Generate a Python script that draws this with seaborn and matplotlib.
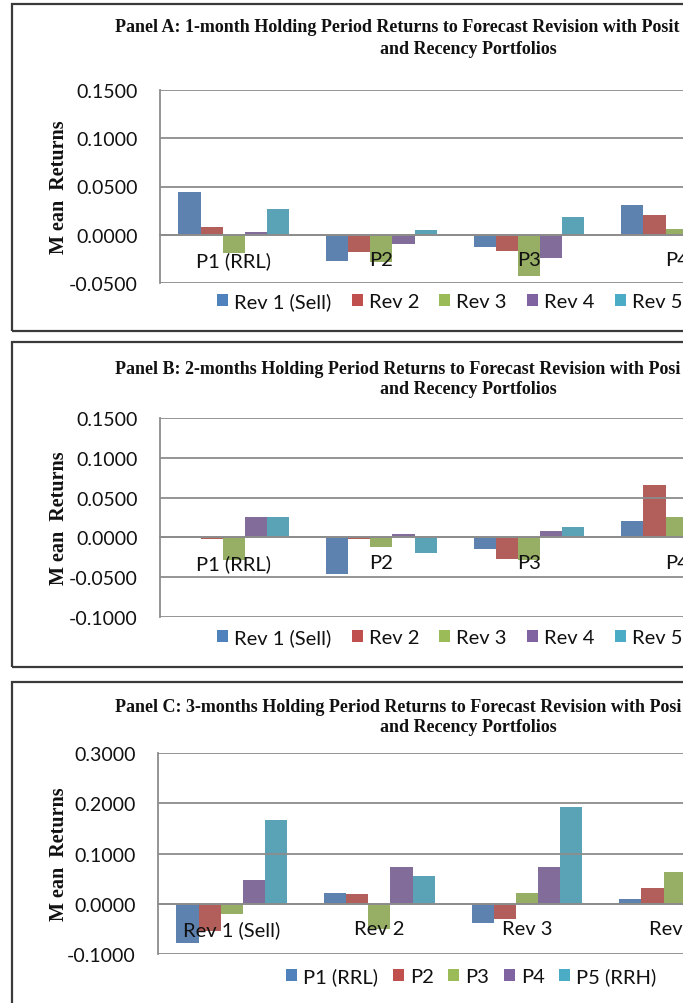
import numpy as np
import pandas as pd
import matplotlib
matplotlib.use("Agg")
import matplotlib.pyplot as plt
import seaborn as sns
from matplotlib.patches import Rectangle, Patch
from matplotlib.ticker import FuncFormatter, FixedLocator

nan = np.nan

# Category and series names
portfolios = ["P1 (RRL)", "P2", "P3", "P4", "P5 (RRH)"]
revisions = ["Rev 1 (Sell)", "Rev 2", "Rev 3", "Rev 4", "Rev 5 (Buy)"]

# Panel A: 1-month holding period mean returns (rows = revision series, by portfolio)
a_rev1 = [0.044, -0.027, -0.013, 0.031, nan]
a_rev2 = [0.008, -0.018, -0.017, 0.020, nan]
a_rev3 = [-0.019, -0.028, -0.043, 0.006, nan]
a_rev4 = [0.003, -0.010, -0.024, nan, nan]
a_rev5 = [0.027, 0.005, 0.018, nan, nan]

# Panel B: 2-months holding period mean returns
b_rev1 = [0.002, -0.046, -0.015, 0.021, nan]
b_rev2 = [-0.0025, -0.002, -0.0275, 0.0655, nan]
b_rev3 = [-0.028, -0.012, -0.028, 0.026, nan]
b_rev4 = [0.026, 0.004, 0.008, 0.024, nan]
b_rev5 = [0.026, -0.019, 0.013, nan, nan]

# Panel C: 3-months holding period mean returns (rows = portfolio series, by revision)
c_p1 = [-0.078, 0.021, -0.038, 0.010, nan]
c_p2 = [-0.054, 0.0185, -0.031, 0.031, nan]
c_p3 = [-0.020, -0.050, 0.021, 0.063, nan]
c_p4 = [0.048, 0.074, 0.074, 0.046, nan]
c_p5 = [0.166, 0.056, 0.192, nan, nan]

# Axis ticks
ab_ticks = [-0.05, 0.0, 0.05, 0.10, 0.15]
b_ticks = [-0.10, -0.05, 0.0, 0.05, 0.10, 0.15]
c_ticks = [-0.10, 0.0, 0.10, 0.20, 0.30]

titles = [
    ("Panel A: 1-month Holding Period Returns to Forecast Revision with Posit", "and Recency Portfolios"),
    ("Panel B: 2-months Holding Period Returns to Forecast Revision with Posi", "and Recency Portfolios"),
    ("Panel C: 3-months Holding Period Returns to Forecast Revision with Posi", "and Recency Portfolios"),
]

colors = ["#4F81BD", "#C0504D", "#9BBB59", "#8064A2", "#4BACC6"]


def long_frame(categories, names, series):
    rows = []
    for name, vals in zip(names, series):
        for cat, v in zip(categories, vals):
            rows.append({"category": cat, "series": name, "value": v})
    return pd.DataFrame(rows).dropna()


panels = [
    dict(df=long_frame(portfolios, revisions, [a_rev1, a_rev2, a_rev3, a_rev4, a_rev5]),
         cats=portfolios, names=revisions, ticks=ab_ticks,
         ax_px=(160, 91, 284), frame_px=(12, 5, 332), title_y=(28, 49),
         leg=(217, 302), colsp=1.0),
    dict(df=long_frame(portfolios, revisions, [b_rev1, b_rev2, b_rev3, b_rev4, b_rev5]),
         cats=portfolios, names=revisions, ticks=b_ticks,
         ax_px=(160, 419, 618), frame_px=(12, 343, 668), title_y=(369, 390),
         leg=(217, 638), colsp=1.0),
    dict(df=long_frame(revisions, portfolios, [c_p1, c_p2, c_p3, c_p4, c_p5]),
         cats=revisions, names=portfolios, ticks=c_ticks,
         ax_px=(158, 754, 955), frame_px=(12, 683, 1100), title_y=(708, 728),
         leg=(286, 977), colsp=0.72),
]

sns.set_theme(style="white")
plt.rcParams["font.family"] = ["Lato", "DejaVu Sans"]

W, H = 696, 1004
fig = plt.figure(figsize=(W / 100, H / 100), dpi=100)
fig.patch.set_facecolor("white")

grid_color = "#8c8c8c"
cat_w = 147.6
serif = ["Liberation Serif", "DejaVu Serif"]

for p, (t1, t2) in zip(panels, titles):
    left, top, bottom = p["ax_px"]
    # outer panel frame
    fx, fy0, fy1 = p["frame_px"]
    fig.add_artist(Rectangle((fx / W, 1 - fy1 / H), 2.0, (fy1 - fy0) / H,
                             transform=fig.transFigure, fill=False,
                             edgecolor="#3a3a3a", linewidth=1.6, zorder=1))

    ax = fig.add_axes([left / W, 1 - bottom / H, 5 * cat_w / W, (bottom - top) / H])
    ax.set_axisbelow(False)
    sns.barplot(data=p["df"], x="category", y="value", hue="series",
                order=p["cats"], hue_order=p["names"], palette=colors,
                width=0.75, errorbar=None, legend=False, ax=ax,
                edgecolor="none", linewidth=0, zorder=1)

    ticks = p["ticks"]
    ax.set_xlim(-0.5, 4.5)
    ax.set_ylim(ticks[0], ticks[-1])
    ax.yaxis.set_major_locator(FixedLocator(ticks))
    ax.yaxis.set_major_formatter(FuncFormatter(lambda v, _: f"{v:.4f}"))
    ax.yaxis.grid(True, color=grid_color, linewidth=1.3, zorder=0)
    ax.xaxis.grid(False)

    for s in ["top", "right"]:
        ax.spines[s].set_visible(False)
    ax.spines["left"].set_color(grid_color)
    ax.spines["left"].set_linewidth(1.3)
    ax.spines["bottom"].set_position(("data", 0))
    ax.spines["bottom"].set_color(grid_color)
    ax.spines["bottom"].set_linewidth(1.3)

    ax.set_xticks(range(5))
    ax.set_xticklabels(p["cats"])
    ax.set_xticks([0.5, 1.5, 2.5, 3.5], minor=True)
    ax.tick_params(axis="x", which="major", length=0, pad=12, labelsize=14.5,
                   labelcolor="#111111")
    ax.tick_params(axis="x", which="minor", length=5, width=1.3, color=grid_color,
                   direction="out")
    ax.tick_params(axis="y", length=6, width=1.3, color=grid_color, direction="out",
                   pad=10, labelsize=14, labelcolor="#111111")
    for lab in ax.get_xticklabels():
        lab.set_zorder(5)
    ax.set_xlabel("")
    ax.set_ylabel("")

    # y axis title
    fig.text(59 / W, 1 - ((top + bottom) / 2) / H, "M ean  Returns", rotation=90,
             ha="center", va="center", fontsize=14.5, fontweight="bold",
             family=serif, color="#111111")

    # two-line panel title
    fig.text(115 / W, 1 - p["title_y"][0] / H, t1, ha="left", va="center",
             fontsize=13, fontweight="bold", family=serif, color="#111111")
    fig.text(468 / W, 1 - p["title_y"][1] / H, t2, ha="center", va="center",
             fontsize=13, fontweight="bold", family=serif, color="#111111")

    handles = [Patch(facecolor=c, edgecolor="none") for c in colors]
    lx, ly = p["leg"]
    fig.legend(handles, p["names"], loc="center left",
               bbox_to_anchor=(lx / W, 1 - ly / H), ncol=5, frameon=False,
               fontsize=14.5, handlelength=0.55, handleheight=0.55,
               handletextpad=0.3, columnspacing=p["colsp"], borderpad=0,
               borderaxespad=0, labelcolor="#111111")

# content ends before the right margin
fig.add_artist(Rectangle((683 / W, 0), 1, 1, transform=fig.transFigure,
                         facecolor="white", edgecolor="none", zorder=100))

fig.savefig("out.png", dpi=100)
